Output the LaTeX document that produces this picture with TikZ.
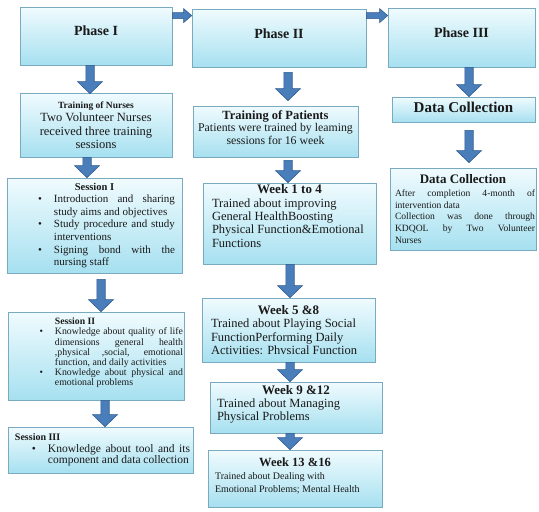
\documentclass[tikz,border=0pt]{standalone}
\usepackage{fontspec}
\setmainfont{Liberation Serif}
\usetikzlibrary{calc,shadows}
\definecolor{boxedge}{HTML}{7AAABF}
\definecolor{boxtop}{HTML}{F0FBFE}
\definecolor{boxbot}{HTML}{A6E0F0}
\definecolor{arrowblue}{HTML}{4A7EBB}
\definecolor{arrowedge}{HTML}{2E5C8E}
\definecolor{txt}{HTML}{1A1A1A}
\newcommand\setfs[2]{\fontsize{#1}{#2}\selectfont}
\newcommand\jline[1]{\makebox[\linewidth][s]{#1}}
\newenvironment{blist}[2]{\begin{list}{\textbullet}{\setlength\leftmargin{#1}\setlength\rightmargin{#2}%
  \setlength\labelsep{12pt}\setlength\labelwidth{10pt}\setlength\itemsep{0pt}\setlength\parsep{0pt}%
  \setlength\topsep{0pt}\setlength\partopsep{0pt}\setlength\itemindent{0pt}\setlength\listparindent{0pt}}}{\end{list}}
\tikzset{
  box/.style={draw=boxedge, line width=0.8pt, top color=boxtop, bottom color=boxbot, inner sep=0pt,
    text=txt, drop shadow={shadow xshift=1.3pt, shadow yshift=-1.3pt, fill=black, opacity=0.3}},
  blockarrow/.style n args={3}{fill=arrowblue, draw=arrowedge, line width=0.6pt, line join=miter,
    to path={coordinate (ba) at ($(\tikztotarget)!#3!(\tikztostart)$)
      ($(\tikztostart)!#1!90:(\tikztotarget)$) -- ($(ba)!#1!90:(\tikztotarget)$)
      -- ($(ba)!#2!90:(\tikztotarget)$) -- (\tikztotarget) -- ($(ba)!#2!-90:(\tikztotarget)$)
      -- ($(ba)!#1!-90:(\tikztotarget)$) -- ($(\tikztostart)!#1!-90:(\tikztotarget)$) -- cycle}},
  varrow/.style={blockarrow={4.2pt}{12.5pt}{12pt}},
  harrow/.style={blockarrow={3pt}{7pt}{8pt}},
}
\begin{document}
\begin{tikzpicture}[x=1pt,y=-1pt]
\fill[white] (0,0) rectangle (539,512);
\useasboundingbox (0,0) rectangle (539,512);

% Column I
\node[box, minimum width=152pt, minimum height=58pt] (p1) at (96,36)
  {\setfs{14}{16}\bfseries\raisebox{1pt}[0pt][0pt]{Phase I}};
\node[box, minimum width=152pt, minimum height=64pt] (tn) at (96,125)
  {\begin{minipage}{152pt}\centering
   {\setfs{9.5}{11}\bfseries Training of Nurses\par}
   \setfs{12.5}{13.5}Two Volunteer Nurses\\received three training\\sessions
   \end{minipage}};
\node[box, minimum width=175pt, minimum height=95pt] (s1) at (94.5,225.5)
  {\begin{minipage}{175pt}
   {\centering\setfs{10.5}{12.6}\bfseries Session I\par}
   \setfs{11}{12.6}
   \begin{blist}{47pt}{7pt}
   \item \jline{Introduction and sharing}\newline study aims and objectives
   \item \jline{Study procedure and study}\newline interventions
   \item \jline{Signing bond with the}\newline nursing staff
   \end{blist}
   \end{minipage}};
\node[box, minimum width=176pt, minimum height=88pt] (s2) at (96,356)
  {\begin{minipage}{176pt}
   {\setfs{9.7}{10.2}\hspace*{47pt}\bfseries Session II\par}
   \setfs{9.8}{10.2}
   \begin{blist}{47pt}{1pt}
   \item \jline{Knowledge about quality of life}\newline\jline{dimensions general health}\newline\jline{,physical ,social, emotional}\newline function, and daily activities
   \item \jline{Knowledge about physical and}\newline emotional problems
   \end{blist}\par\kern6pt
   \end{minipage}};
\node[box, minimum width=185pt, minimum height=46pt] (s3) at (100.5,450)
  {\begin{minipage}{185pt}
   {\setfs{10}{11.5}\hspace*{7pt}\bfseries Session III\par}
   \setfs{11.5}{11.5}
   \begin{blist}{40pt}{3pt}
   \item \jline{Knowledge about tool and its}\newline component and data collection
   \end{blist}
   \end{minipage}};

% Column II
\node[box, minimum width=174pt, minimum height=58pt] (p2) at (279,38)
  {\setfs{14}{16}\bfseries\raisebox{0pt}[0pt][0pt]{Phase II}};
\node[box, minimum width=165pt, minimum height=51pt] (tp) at (275.5,131.5)
  {\begin{minipage}{165pt}\centering
   {\setfs{12.5}{13}\bfseries Training of Patients\par}
   \setfs{11.8}{12.5}Patients were trained by leaming\\sessions for 16 week\par\kern8pt
   \end{minipage}};
\node[box, minimum width=173pt, minimum height=81pt] (w1) at (289.5,223.5)
  {\begin{minipage}{173pt}
   {\centering\setfs{13}{13.3}\bfseries Week 1 to 4\par}
   \setfs{12.5}{13.3}\leftskip=9pt Trained about improving\\General HealthBoosting\\Physical Function\&Emotional\\Functions\par\kern15pt
   \end{minipage}};
\node[box, minimum width=173pt, minimum height=64pt] (w5) at (288.5,330)
  {\begin{minipage}{173pt}
   {\centering\setfs{13}{13.3}\bfseries Week 5 \&8\par}
   \setfs{12.5}{13.3}\leftskip=9pt Trained about Playing Social\\FunctionPerforming Daily\\Activities: Phvsical Function
   \end{minipage}};
\node[box, minimum width=172pt, minimum height=51pt] (w9) at (296,407.5)
  {\begin{minipage}{172pt}
   {\centering\setfs{13}{13}\bfseries Week 9 \&12\par}
   \setfs{12.5}{13}\leftskip=7pt Trained about Managing\\Physical Problems\par\kern6pt
   \end{minipage}};
\node[box, minimum width=174pt, minimum height=57pt] (w13) at (295,478.5)
  {\begin{minipage}{174pt}
   {\centering\setfs{12.5}{14}\bfseries Week 13 \&16\par}
   \setfs{10}{13}\leftskip=7pt Trained about Dealing with\\Emotional Problems; Mental Health\par\kern6pt
   \end{minipage}};

% Column III
\node[box, minimum width=147pt, minimum height=59pt] (p3) at (461.5,37.5)
  {\setfs{14}{16}\bfseries\raisebox{0pt}[0pt][0pt]{Phase III}};
\node[box, minimum width=143pt, minimum height=25pt] (dc1) at (463.5,109.5)
  {\setfs{15}{16}\bfseries\raisebox{-2.5pt}[0pt][0pt]{Data Collection}};
\node[box, minimum width=146pt, minimum height=82pt] (dc2) at (463,209)
  {\begin{minipage}{146pt}
   {\centering\setfs{13}{14}\bfseries Data Collection\par}
   \setfs{9.6}{13}\hspace*{5pt}\begin{minipage}[t]{140pt}\setfs{9.6}{11.8}%
   \jline{After completion 4-month of}\newline intervention data\newline
   \jline{Collection was done through}\newline\jline{KDQOL by Two Volunteer}\newline Nurses
   \end{minipage}
   \end{minipage}};

% Arrows
\draw[harrow] ([yshift=-9pt]p1.north east) to ([yshift=-7pt]p2.north west);
\draw[harrow] ([yshift=-7pt]p2.north east) to ([yshift=-8pt]p3.north west);
\draw[varrow] ([xshift=-6pt]p1.south) to ([xshift=-6pt,yshift=-1pt]tn.north);
\draw[varrow] ([xshift=-9pt]tn.south) to ([xshift=-7.5pt]s1.north);
\draw[varrow] ([xshift=6.5pt,yshift=-6pt]s1.south) to ([xshift=5pt]s2.north);
\draw[varrow] ([xshift=9pt]s2.south) to ([xshift=4.5pt]s3.north);
\draw[varrow] ([xshift=9pt,yshift=-5pt]p2.south) to ([xshift=12.5pt,yshift=5pt]tp.north);
\draw[varrow] ([xshift=12.5pt,yshift=-3pt]tp.south) to ([xshift=-1.5pt]w1.north);
\draw[varrow] ([xshift=0.5pt]w1.south) to ([xshift=1.5pt]w5.north);
\draw[varrow] ([xshift=1.5pt]w5.south) to ([xshift=-6pt]w9.north);
\draw[varrow] ([xshift=-6pt]w9.south) to ([xshift=-5pt]w13.north);
\draw[varrow] ([xshift=7.5pt]p3.south) to ([xshift=5.5pt]dc1.north);
\draw[varrow] ([xshift=5.5pt,yshift=-8pt]dc1.south) to ([xshift=6pt,yshift=5pt]dc2.north);
\end{tikzpicture}
\end{document}
